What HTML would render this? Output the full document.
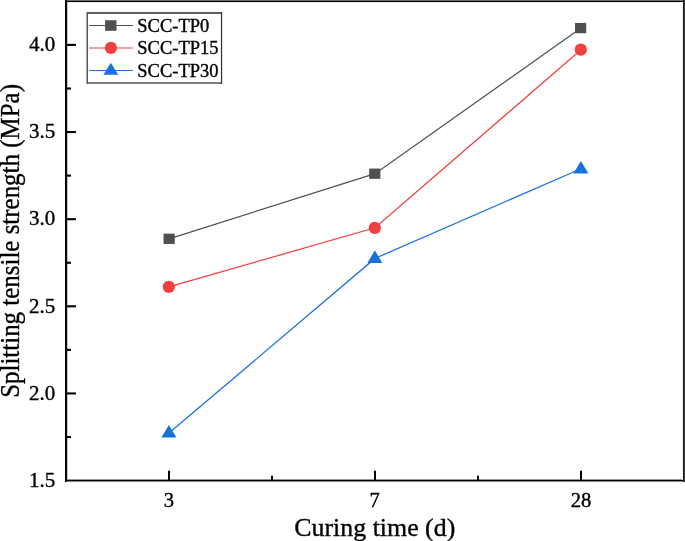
<!DOCTYPE html>
<html><head><meta charset="utf-8"><style>
html,body{margin:0;padding:0;background:#fff;}
svg{display:block;font-family:"Liberation Serif", serif;}
</style></head><body>
<svg width="685" height="541" viewBox="0 0 685 541" fill="#000">
<defs><filter id="g" x="0" y="0" width="685" height="541" filterUnits="userSpaceOnUse"><feColorMatrix type="saturate" values="0"/></filter></defs>
<polyline points="169.0,238.8 375.0,173.7 581.0,28.1" fill="none" stroke="#505050" stroke-width="1.25"/>
<polyline points="169.0,286.8 375.0,227.8 581.0,49.7" fill="none" stroke="#f04040" stroke-width="1.25"/>
<polyline points="169.0,433.1 375.0,258.4 581.0,168.8" fill="none" stroke="#1a70dd" stroke-width="1.25"/>
<rect x="163.55" y="233.65" width="11.2" height="10.3" fill="#505050"/>
<rect x="369.20" y="168.55" width="11.2" height="10.3" fill="#505050"/>
<rect x="575.05" y="22.95" width="11.2" height="10.3" fill="#505050"/>
<circle cx="168.8" cy="286.8" r="6.15" fill="#f04040"/>
<circle cx="374.8" cy="227.8" r="6.15" fill="#f04040"/>
<circle cx="580.8" cy="49.7" r="6.15" fill="#f04040"/>
<polygon points="168.9,425.0 176.40,437.6 161.40,437.6" fill="#1a70dd"/>
<polygon points="374.9,250.3 382.40,262.90000000000003 367.40,262.90000000000003" fill="#1a70dd"/>
<polygon points="580.9,161.0 588.40,173.6 573.40,173.6" fill="#1a70dd"/>
<rect x="65" y="0" width="620" height="1" fill="#707070"/>
<rect x="65" y="1" width="620" height="1" fill="#000"/>
<rect x="67" y="2" width="615" height="1" fill="#ebebeb"/>
<rect x="67" y="479" width="615" height="1" fill="#969696"/>
<rect x="65" y="480" width="620" height="1" fill="#000"/>
<rect x="65" y="481" width="620" height="1" fill="#8c8c8c"/>
<rect x="65" y="482" width="620" height="1" fill="#f2f2f2"/>
<rect x="65" y="0" width="1" height="482" fill="#000"/>
<rect x="66" y="0" width="1" height="482" fill="#0a0a0a"/>
<rect x="67" y="2" width="1" height="477" fill="#c8c8c8"/>
<rect x="682" y="2" width="1" height="477" fill="#f0f0f0"/>
<rect x="683" y="0" width="1" height="482" fill="#1c1c1c"/>
<rect x="684" y="0" width="1" height="482" fill="#3c3c3c"/>
<line x1="67" y1="437.03" x2="71.0" y2="437.03" stroke="#000" stroke-width="2.1"/>
<line x1="67" y1="393.46" x2="75.9" y2="393.46" stroke="#000" stroke-width="2.1"/>
<line x1="67" y1="349.89" x2="71.0" y2="349.89" stroke="#000" stroke-width="2.1"/>
<line x1="67" y1="306.32" x2="75.9" y2="306.32" stroke="#000" stroke-width="2.1"/>
<line x1="67" y1="262.75" x2="71.0" y2="262.75" stroke="#000" stroke-width="2.1"/>
<line x1="67" y1="219.18" x2="75.9" y2="219.18" stroke="#000" stroke-width="2.1"/>
<line x1="67" y1="175.61" x2="71.0" y2="175.61" stroke="#000" stroke-width="2.1"/>
<line x1="67" y1="132.04" x2="75.9" y2="132.04" stroke="#000" stroke-width="2.1"/>
<line x1="67" y1="88.47" x2="71.0" y2="88.47" stroke="#000" stroke-width="2.1"/>
<line x1="67" y1="44.90" x2="75.9" y2="44.90" stroke="#000" stroke-width="2.1"/>
<line x1="169.0" y1="481" x2="169.0" y2="470.8" stroke="#000" stroke-width="2.0"/>
<line x1="375.0" y1="481" x2="375.0" y2="470.8" stroke="#000" stroke-width="2.0"/>
<line x1="581.0" y1="481" x2="581.0" y2="470.8" stroke="#000" stroke-width="2.0"/>
<line x1="272.0" y1="481" x2="272.0" y2="475.8" stroke="#000" stroke-width="2.0"/>
<line x1="478.0" y1="481" x2="478.0" y2="475.8" stroke="#000" stroke-width="2.0"/>
<rect x="86" y="12" width="136" height="72" fill="#fff"/>
<rect x="86" y="12" width="136" height="2" fill="#5e5e5e"/>
<rect x="86" y="82" width="136" height="2" fill="#7e7e7e"/>
<rect x="86" y="12" width="1" height="72" fill="#a8a8a8"/>
<rect x="87" y="12" width="1" height="72" fill="#555555"/>
<rect x="220" y="14" width="1" height="68" fill="#ececec"/>
<rect x="221" y="12" width="1" height="72" fill="#333333"/>
<rect x="222" y="12" width="1" height="72" fill="#e0e0e0"/>
<line x1="89.1" y1="25.4" x2="132.8" y2="25.4" stroke="#505050" stroke-width="1.05"/>
<line x1="89.1" y1="48.0" x2="132.8" y2="48.0" stroke="#f04040" stroke-width="1.05"/>
<line x1="89.1" y1="70.5" x2="132.8" y2="70.5" stroke="#1a70dd" stroke-width="1.05"/>
<rect x="105.10" y="20.20" width="11.4" height="10.6" fill="#505050"/>
<circle cx="110.9" cy="47.9" r="6.1" fill="#f04040"/>
<polygon points="110.8,62.8 118.25,74.7 103.35,74.7" fill="#1a70dd"/>
<g filter="url(#g)" stroke="#000" stroke-width="0.35">
<text transform="translate(55.35,487.10) scale(1.05,1)" text-anchor="end" font-size="20">1.5</text>
<text transform="translate(55.35,399.81) scale(1.05,1)" text-anchor="end" font-size="20">2.0</text>
<text transform="translate(55.35,312.52) scale(1.05,1)" text-anchor="end" font-size="20">2.5</text>
<text transform="translate(55.35,225.23) scale(1.05,1)" text-anchor="end" font-size="20">3.0</text>
<text transform="translate(55.35,137.94) scale(1.05,1)" text-anchor="end" font-size="20">3.5</text>
<text transform="translate(55.35,50.65) scale(1.05,1)" text-anchor="end" font-size="20">4.0</text>
<text transform="translate(169.0,506.6) scale(1.03,1)" text-anchor="middle" font-size="20">3</text>
<text transform="translate(374.6,506.6) scale(1.03,1)" text-anchor="middle" font-size="20">7</text>
<text transform="translate(581.0,506.6) scale(1.03,1)" text-anchor="middle" font-size="20">28</text>
<text x="374.8" y="536.2" text-anchor="middle" font-size="25.6" textLength="161" lengthAdjust="spacingAndGlyphs">Curing time (d)</text>
<text transform="translate(18.6,240.95) rotate(-90)" text-anchor="middle" font-size="26.8" textLength="313.8" lengthAdjust="spacingAndGlyphs">Splitting tensile strength (MPa)</text>
<text transform="translate(137.3,31.50) scale(1.035,1)" font-size="17.9">SCC-TP0</text>
<text transform="translate(137.3,54.10) scale(1.035,1)" font-size="17.9">SCC-TP15</text>
<text transform="translate(137.3,76.60) scale(1.035,1)" font-size="17.9">SCC-TP30</text>
</g>
</svg>
</body></html>
